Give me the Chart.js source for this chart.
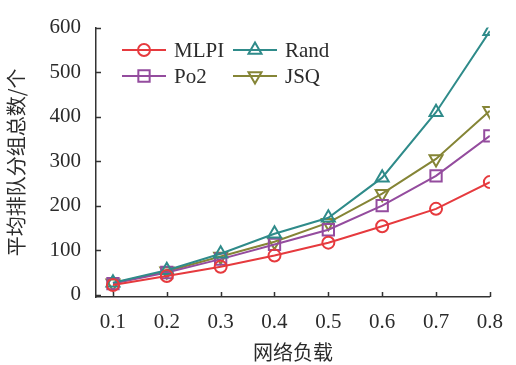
<!DOCTYPE html>
<html>
<head>
<meta charset="utf-8">
<script src="https://cdn.jsdelivr.net/npm/chart.js@4.4.0/dist/chart.umd.min.js"></script>
<style>
  html, body { margin: 0; padding: 0; background: #fff; }
  #wrap { width: 516px; height: 365px; position: relative; }
</style>
</head>
<body>
<div id="wrap"><canvas id="queueChart"></canvas></div>
<script>
// network load on x, average queued packets on y
const loads = [0.1, 0.2, 0.3, 0.4, 0.5, 0.6, 0.7, 0.8];
const yTicks = [0, 100, 200, 300, 400, 500, 600];
const seriesNames = ['MLPI', 'Rand', 'Po2', 'JSQ'];
const mlpi = [22, 42, 63, 88, 117, 154, 193, 253];
const rand = [27, 55, 92, 137, 173, 263, 410, 592];
const po2 = [25, 50, 80, 113, 146, 200, 267, 357];
const jsq = [26, 53, 86, 119, 162, 227, 305, 413];

const serif = "'Liberation Serif', 'Times New Roman', serif";
const cjk = "'Noto Sans CJK SC', sans-serif";
const textColor = '#2b2b2b';

function pts(arr) {
    return loads.map((x, i) => ({ x: x, y: arr[i] }));
}

function makeSet(label, values, color, style, radius, rot) {
    return {
        label: label,
        data: pts(values),
        borderColor: color,
        backgroundColor: 'rgba(255,255,255,0)',
        pointBorderColor: color,
        pointBackgroundColor: 'rgba(255,255,255,0)',
        borderWidth: 2,
        pointBorderWidth: 2,
        pointRadius: radius,
        pointStyle: style,
        pointRotation: rot || 0,
        tension: 0
    };
}

const datasets = [
    makeSet(seriesNames[0], mlpi, '#e63a3e', 'circle', 6),
    makeSet(seriesNames[1], rand, '#2f8b8a', 'triangle', 7.5),
    makeSet(seriesNames[2], po2, '#944c9e', 'rect', 8),
    makeSet(seriesNames[3], jsq, '#858536', 'triangle', 7.5, 180)
];

// small inward tick marks on both axes
const innerTicks = {
    id: 'innerTicks',
    afterDraw(chart) {
        const { ctx, chartArea, scales } = chart;
        ctx.save();
        ctx.strokeStyle = '#333';
        ctx.lineWidth = 1.5;
        ctx.beginPath();
        scales.x.ticks.forEach(t => {
            const px = Math.round(scales.x.getPixelForValue(t.value)) + 0.5;
            ctx.moveTo(px, chartArea.bottom);
            ctx.lineTo(px, chartArea.bottom - 5);
        });
        scales.y.ticks.forEach(t => {
            const py = Math.round(scales.y.getPixelForValue(t.value)) + 0.5;
            ctx.moveTo(chartArea.left, py);
            ctx.lineTo(chartArea.left + 5, py);
        });
        ctx.stroke();
        ctx.restore();
    }
};

// two-column legend inside the plot
const innerLegend = {
    id: 'innerLegend',
    afterDraw(chart) {
        const ctx = chart.ctx;
        const cols = [122, 233];
        const rows = [50, 76];
        ctx.save();
        chart.data.datasets.forEach((ds, i) => {
            const x0 = cols[i % 2];
            const y0 = rows[Math.floor(i / 2)];
            ctx.strokeStyle = ds.borderColor;
            ctx.lineWidth = 2;
            ctx.beginPath();
            ctx.moveTo(x0, y0);
            ctx.lineTo(x0 + 44, y0);
            ctx.stroke();
            ctx.fillStyle = 'rgba(255,255,255,0)';
            Chart.helpers.drawPoint(ctx, {
                pointStyle: ds.pointStyle,
                rotation: ds.pointRotation,
                radius: ds.pointRadius,
                borderWidth: 2
            }, x0 + 22, y0);
            ctx.fillStyle = textColor;
            ctx.font = '21px ' + serif;
            ctx.textBaseline = 'middle';
            ctx.textAlign = 'left';
            ctx.fillText(ds.label, x0 + 52, y0 + 1);
        });
        ctx.restore();
    }
};

new Chart(document.getElementById('queueChart'), {
    type: 'line',
    data: { datasets: datasets },
    plugins: [innerTicks, innerLegend],
    options: {
        responsive: true,
        maintainAspectRatio: false,
        animation: false,
        layout: { padding: { left: 0, right: 24, top: 20, bottom: 0 } },
        plugins: {
            legend: { display: false },
            tooltip: { enabled: false }
        },
        scales: {
            x: {
                type: 'linear',
                min: 0.0685,
                max: 0.8,
                afterBuildTicks: (scale) => {
                    scale.ticks = loads.map(v => ({ value: v }));
                },
                afterFit: (scale) => { scale.height = 68; },
                grid: { drawOnChartArea: false, drawTicks: false },
                border: { color: '#333', width: 1.5 },
                ticks: {
                    padding: 13,
                    color: textColor,
                    font: { family: serif, size: 21 },
                    callback: v => Number(v).toFixed(1)
                },
                title: {
                    display: true,
                    text: '网络负载',
                    color: textColor,
                    font: { family: cjk, size: 20 },
                    padding: { top: 0, bottom: 1 }
                }
            },
            y: {
                min: -5,
                max: 600,
                afterBuildTicks: (scale) => {
                    scale.ticks = yTicks.map(v => ({ value: v }));
                },
                afterFit: (scale) => { scale.width = 96; },
                grid: { drawOnChartArea: false, drawTicks: false },
                border: { color: '#333', width: 1.5 },
                ticks: {
                    padding: 15,
                    color: textColor,
                    font: { family: serif, size: 21 }
                },
                title: {
                    display: true,
                    text: '平均排队分组总数/个',
                    color: textColor,
                    font: { family: cjk, size: 20 },
                    padding: { top: 4, bottom: 0 }
                }
            }
        }
    }
});
</script>
</body>
</html>
